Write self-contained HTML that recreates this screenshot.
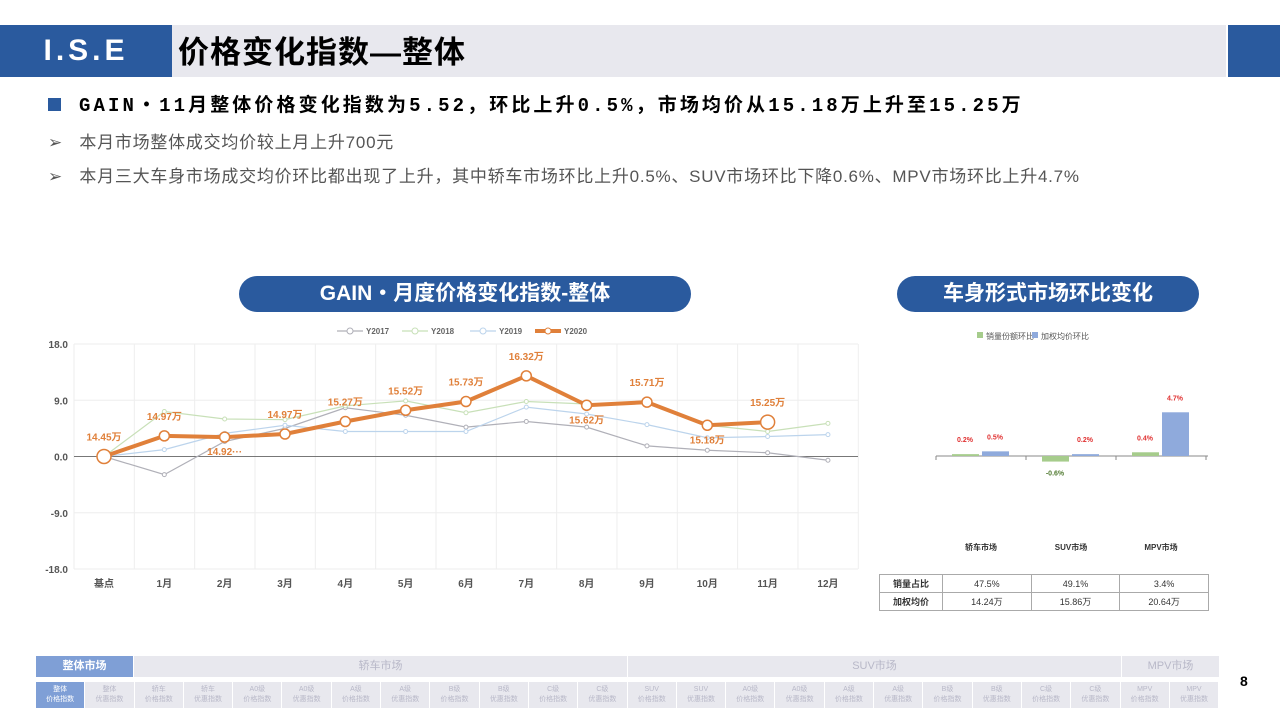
<!DOCTYPE html>
<html><head><meta charset="utf-8">
<style>
body{margin:0;width:1280px;height:720px;overflow:hidden;background:#fff;font-family:"Liberation Sans","Noto Sans CJK SC",sans-serif;position:relative}
.abs{position:absolute}
.pill{position:absolute;background:#2a5a9e;color:#fff;font-weight:bold;font-size:21px;text-align:center;border-radius:20px;height:36px;line-height:36px}
.nav{position:absolute;left:36px;display:flex}
.nav div{box-sizing:border-box;border-right:1px solid #fff;text-align:center;color:#b8b8c8;font-size:7px;background:#e8e8ee}
table{border-collapse:collapse;font-size:9px;color:#333}
td{border:1px solid #aaa;text-align:center;height:15px}
</style></head><body>
<div class="abs" style="left:0;top:25px;width:172px;height:52px;background:#2a5a9e;color:#fff;font-size:30px;font-weight:bold;line-height:52px;text-align:center;letter-spacing:4px">I.S.E</div>
<div class="abs" style="left:172px;top:25px;width:1054px;height:52px;background:#e8e8ee;font-size:31px;font-weight:bold;line-height:56px;padding-left:6px;box-sizing:border-box;letter-spacing:1px">价格变化指数—整体</div>
<div class="abs" style="left:1228px;top:25px;width:52px;height:52px;background:#2a5a9e"></div>
<div class="abs" style="left:48px;top:90px;font-size:19px;font-weight:bold;font-family:'Liberation Mono','Noto Sans CJK SC',monospace;letter-spacing:3.1px;white-space:nowrap"><span style="display:inline-block;width:13px;height:13px;background:#2a5a9e;margin-right:18px"></span>GAIN・11月整体价格变化指数为5.52，环比上升0.5%，市场均价从15.18万上升至15.25万</div>
<div class="abs" style="left:48px;top:128px;font-size:17px;color:#555;letter-spacing:0.75px">➢&nbsp;&nbsp;&nbsp;本月市场整体成交均价较上月上升700元</div>
<div class="abs" style="left:48px;top:162px;font-size:17px;color:#555;letter-spacing:0.75px;white-space:nowrap">➢&nbsp;&nbsp;&nbsp;本月三大车身市场成交均价环比都出现了上升，其中轿车市场环比上升0.5%、SUV市场环比下降0.6%、MPV市场环比上升4.7%</div>
<div class="pill" style="left:239px;top:276px;width:452px">GAIN・月度价格变化指数-整体</div>
<div class="pill" style="left:897px;top:276px;width:302px">车身形式市场环比变化</div>
<svg class="abs" style="left:0;top:0" width="1280" height="720" id="svg"></svg>
<table class="abs" style="left:879px;top:574px;width:330px">
<tr><td style="font-weight:bold;width:60px">销量占比</td><td>47.5%</td><td>49.1%</td><td>3.4%</td></tr>
<tr><td style="font-weight:bold">加权均价</td><td>14.24万</td><td>15.86万</td><td>20.64万</td></tr></table>
<div class="nav" style="top:656px;height:21px;line-height:21px">
<div style="width:98px;background:#7f9fd6;color:#fff;font-size:11px;font-weight:bold">整体市场</div>
<div style="width:494px;font-size:11px">轿车市场</div>
<div style="width:494px;font-size:11px">SUV市场</div>
<div style="width:98px;font-size:11px">MPV市场</div></div>
<div class="nav" id="nav2" style="top:682px;height:26px;line-height:10px"></div>
<div class="abs" style="left:1240px;top:673px;font-size:14px;font-weight:bold">8</div>
<script>
const months=['基点','1月','2月','3月','4月','5月','6月','7月','8月','9月','10月','11月','12月'];
const yTicks=[18,9,0,-9,-18];
const y2017=[0,-2.9,2.4,4.5,7.8,6.6,4.7,5.6,4.7,1.7,1.0,0.6,-0.6];
const y2018=[0,7.2,6.0,5.9,8.1,8.9,7.0,8.8,8.4,8.5,5.0,4.0,5.3];
const y2019=[0,1.1,3.7,5.0,4.0,4.0,4.0,7.9,6.8,5.1,3.0,3.2,3.5];
const y2020=[0,3.3,3.1,3.6,5.6,7.4,8.8,12.9,8.2,8.7,5.0,5.5];
const y2020Labels=['14.45万','14.97万','14.92···','14.97万','15.27万','15.52万','15.73万','16.32万','15.62万','15.71万','15.18万','15.25万'];
const labelBelow=[false,false,true,false,false,false,false,false,true,false,true,false];
const barCats=['轿车市场','SUV市场','MPV市场'];
const shareChg=[0.2,-0.6,0.4];
const priceChg=[0.5,0.2,4.7];
const NS='http://www.w3.org/2000/svg';const svg=document.getElementById('svg');
function el(t,a,txt){const e=document.createElementNS(NS,t);for(const k in a)e.setAttribute(k,a[k]);if(txt!==undefined)e.textContent=txt;svg.appendChild(e);return e;}
const X=i=>104+i*60.33, Y=v=>456.5-v*6.25;
for(let i=0;i<=13;i++){const g=el('line',{x1:74+i*60.33,x2:74+i*60.33,y1:344,y2:569,stroke:'#eee'});}
yTicks.forEach(t=>{const g=el('line',{x1:74,x2:858,y1:Y(t),y2:Y(t),stroke:t==0?'#777':'#eee'});
const l=el('text',{x:68,y:Y(t)+4,'text-anchor':'end','font-size':10,'font-weight':'bold',fill:'#555'},t.toFixed(1));});
months.forEach((m,i)=>{const l=el('text',{x:X(i),y:587,'text-anchor':'middle','font-size':10,'font-weight':'bold',fill:'#555'},m);});
function series(d,c,w,r,name){const p=el('polyline',{points:d.map((v,i)=>X(i)+','+Y(v)).join(' '),fill:'none',stroke:c,'stroke-width':w});
d.forEach((v,i)=>{const c2=el('circle',{cx:X(i),cy:Y(v),r:(name=='y2020'&&(i==0||i==11))?7:r,fill:'#fff',stroke:c,'stroke-width':name=='y2020'?1.5:1});});}
series(y2017,'#b0b0b8',1.2,2,'y2017');series(y2018,'#c8e0b8',1.2,2,'y2018');series(y2019,'#bcd4ec',1.2,2,'y2019');series(y2020,'#e0803a',4,5,'y2020');
y2020.forEach((v,i)=>{const l=el('text',{x:X(i),y:labelBelow[i]?Y(v)+18:Y(v)-16,'text-anchor':'middle','font-size':10,'font-weight':'bold',fill:'#e0803a'},y2020Labels[i]);});
const leg=[['Y2017','#b0b0b8',337],['Y2018','#c8e0b8',402],['Y2019','#bcd4ec',470],['Y2020','#e0803a',535]];
leg.forEach(([n,c,x])=>{const l=el('line',{x1:x,x2:x+26,y1:331,y2:331,stroke:c,'stroke-width':n=='Y2020'?4:1.2});el('circle',{cx:x+13,cy:331,r:3,fill:'#fff',stroke:c});
const t=el('text',{x:x+29,y:334,'font-size':8,'font-weight':'bold',fill:'#666'},n);});
const B0=456, BS=9.3, bx=i=>936+i*90;
const ax=el('line',{x1:936,x2:1208,y1:B0,y2:B0,stroke:'#888'});
[0,1,2,3].forEach(i=>el('line',{x1:bx(i),x2:bx(i),y1:B0,y2:B0+4,stroke:'#888'}));
barCats.forEach((c,i)=>{
[[shareChg[i],'#a6cc8c',16],[priceChg[i],'#8faadc',46]].forEach(([v,col,off],k)=>{const h=Math.abs(v)*BS;
const r=el('rect',{x:bx(i)+off,y:v>=0?B0-h:B0,width:27,height:h,fill:col});
const t=el('text',{x:bx(i)+off+13,y:v>=0?B0-h-12:B0+h+14,'text-anchor':'middle','font-size':7,'font-weight':'bold',fill:v>=0?'#e03030':'#507a30'},v.toFixed(1)+'%');});
const ct=el('text',{x:bx(i)+45,y:550,'text-anchor':'middle','font-size':8,'font-weight':'bold',fill:'#333'},c);});
[['销量份额环比','#a6cc8c',977],['加权均价环比','#8faadc',1032]].forEach(([n,c,x])=>{el('rect',{x:x,y:332,width:6,height:6,fill:c});const t=el('text',{x:x+9,y:339,'font-size':8,fill:'#555'},n);});
const navItems=[['整体','价格指数'],['整体','优惠指数'],['轿车','价格指数'],['轿车','优惠指数'],['A0级','价格指数'],['A0级','优惠指数'],['A级','价格指数'],['A级','优惠指数'],['B级','价格指数'],['B级','优惠指数'],['C级','价格指数'],['C级','优惠指数'],['SUV','价格指数'],['SUV','优惠指数'],['A0级','价格指数'],['A0级','优惠指数'],['A级','价格指数'],['A级','优惠指数'],['B级','价格指数'],['B级','优惠指数'],['C级','价格指数'],['C级','优惠指数'],['MPV','价格指数'],['MPV','优惠指数']];
const nav=document.getElementById('nav2');
navItems.forEach((n,i)=>{const d=document.createElement('div');d.style.width='49.3px';d.style.paddingTop='3px';if(i==0){d.style.background='#7f9fd6';d.style.color='#fff';}d.innerHTML=n[0]+'<br>'+n[1];


nav.appendChild(d);});
</script>
</body></html>
